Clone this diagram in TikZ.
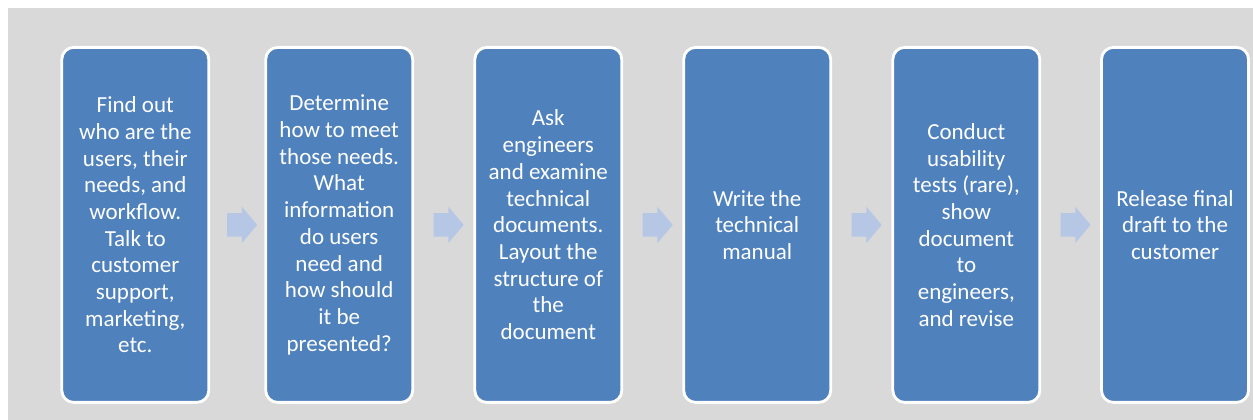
\documentclass[tikz,border=0pt]{standalone}
\usepackage{fontspec}
\setmainfont{Carlito}
\usetikzlibrary{shapes.arrows}
\definecolor{bggray}{RGB}{217,217,217}
\definecolor{boxblue}{RGB}{79,129,189}
\definecolor{arrowblue}{RGB}{182,199,230}
\begin{document}
\begin{tikzpicture}[x=1pt,y=1pt,
  stepbox/.style={draw=white, line width=2.8pt, fill=boxblue, rounded corners=12pt,
    minimum width=147pt, minimum height=355pt, inner sep=0pt, align=center,
    text=white, font=\fontsize{23}{26.7}\selectfont},
  flowarrow/.style={single arrow, fill=arrowblue, draw=none, minimum height=30pt,
    inner xsep=0pt, inner ysep=11.5pt, single arrow head extend=6.5pt,
    single arrow tip angle=100}]
\useasboundingbox (0,0) rectangle (1253,420);
% grey panel behind the process
\fill[bggray] (8,0) rectangle (1253,412);
% process steps
\node[stepbox] (s1) at (135.3,195.1) {Find out\\who are the\\users, their\\needs, and\\workflow.\\Talk to\\customer\\support,\\marketing,\\etc.};
\node[stepbox] (s2) at (339.2,195.1) {Determine\\how to meet\\those needs.\\What\\information\\do users\\need and\\how should\\it be\\presented?};
\node[stepbox] (s3) at (548.3,195.1) {Ask\\engineers\\and examine\\technical\\documents.\\Layout the\\structure of\\the\\document};
\node[stepbox] (s4) at (757.2,195.1) {Write the\\technical\\manual};
\node[stepbox] (s5) at (966.3,195.1) {Conduct\\usability\\tests (rare),\\show\\document\\to\\engineers,\\and revise};
\node[stepbox] (s6) at (1175,195.1) {Release final\\draft to the\\customer};
% arrows between steps
\path (s1.east) -- (s2.west) node[midway, flowarrow] (a1) {};
\path (s2.east) -- (s3.west) node[midway, flowarrow] (a2) {};
\path (s3.east) -- (s4.west) node[midway, flowarrow] (a3) {};
\path (s4.east) -- (s5.west) node[midway, flowarrow] (a4) {};
\path (s5.east) -- (s6.west) node[midway, flowarrow] (a5) {};
\end{tikzpicture}
\end{document}
